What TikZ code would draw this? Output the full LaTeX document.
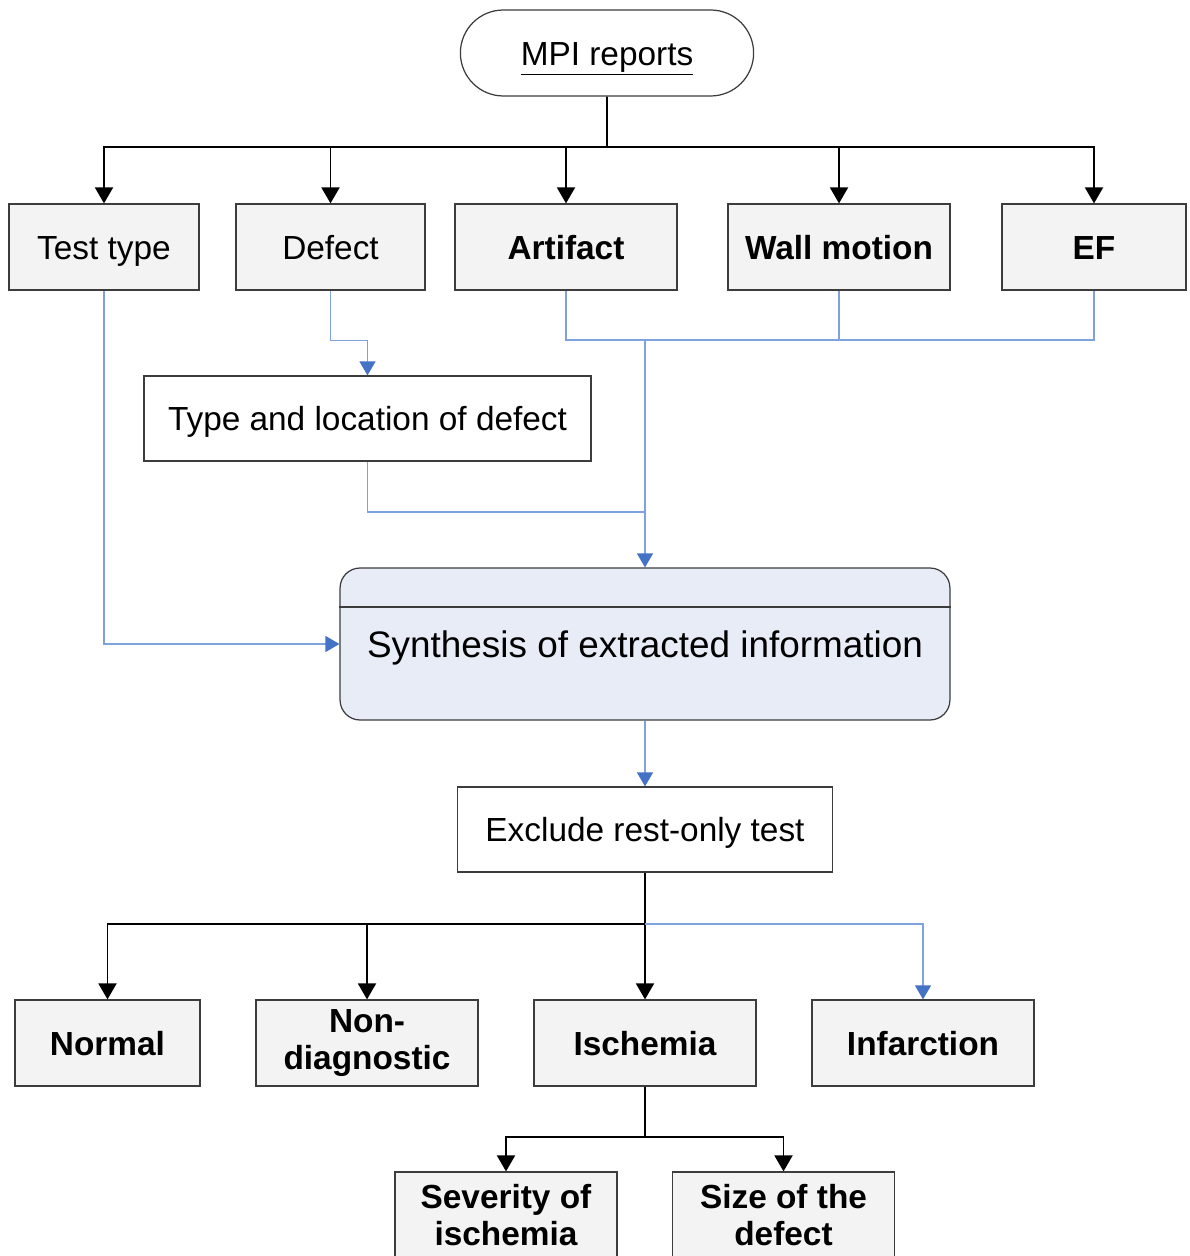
\documentclass[tikz,border=0pt]{standalone}
\usepackage{fontspec}
\setmainfont{Liberation Sans}
\usetikzlibrary{arrows.meta,shapes.misc,calc}

\definecolor{boxgray}{HTML}{F3F3F3}
\definecolor{synthblue}{HTML}{E7ECF7}
\definecolor{linkblue}{HTML}{7EA2DD}
\definecolor{tipblue}{HTML}{4472C4}
\definecolor{edgegray}{HTML}{3C3C3C}

\begin{document}
\begin{tikzpicture}[x=0.02cm,y=-0.02cm,
  box/.style={draw=edgegray, line width=0.7pt, fill=boxgray, minimum height=1.72cm,
    inner sep=0pt, align=center, font=\fontsize{19}{22}\selectfont},
  oneline/.style={text height=13.7pt, text depth=0pt},
  plainbox/.style={box, oneline, fill=white},
  strongbox/.style={box, font=\fontsize{19}{21}\selectfont\bfseries},
  blk/.style={line width=1.1pt, black, -{Triangle[length=0.32cm,width=0.36cm]}},
  blkline/.style={line width=1.1pt, black},
  blu/.style={line width=0.7pt, linkblue, -{Triangle[length=0.28cm,width=0.32cm,color=tipblue]}},
  bluline/.style={line width=0.7pt, linkblue}]

  \useasboundingbox (0,0) rectangle (1189,1256);
  \clip (0,0) rectangle (1189,1256);

  \node [rounded rectangle, draw=edgegray, line width=0.7pt, fill=white, oneline,
    minimum width=6.1cm, minimum height=1.72cm, font=\fontsize{19}{22}\selectfont]
    (mpi) at (607,53) {\underline{MPI reports}};

  %% first row
  \node [box, oneline, minimum width=3.8cm] (test) at (104,247) {Test type};
  \node [box, oneline, minimum width=3.78cm] (defect) at (330.5,247) {Defect};
  \node [strongbox, oneline, minimum width=4.44cm] (artifact) at (566,247) {Artifact};
  \node [strongbox, oneline, minimum width=4.44cm] (wall) at (839,247) {Wall motion};
  \node [strongbox, oneline, minimum width=3.68cm] (ef) at (1094,247) {EF};

  \node [plainbox, minimum width=8.94cm, minimum height=1.7cm] (typeloc) at (367.5,418.5)
    {Type and location of defect};

  \node [draw=edgegray, line width=0.7pt, fill=synthblue, rounded corners=0.4cm,
    text height=15pt, text depth=0pt,
    minimum width=12.2cm, minimum height=3.04cm, font=\fontsize{21}{24}\selectfont]
    (synth) at (645,644) {Synthesis of extracted information};
  \coordinate (synthline) at (0,607);
  \draw [draw=edgegray, line width=0.7pt] (synth.west |- synthline) -- (synth.east |- synthline);

  \node [plainbox, minimum width=7.5cm, minimum height=1.7cm] (exclude) at (645,829.5)
    {Exclude rest-only test};

  %% second row
  \node [strongbox, oneline, minimum width=3.7cm] (normal) at (107.5,1043) {Normal};
  \node [strongbox, minimum width=4.44cm] (nondiag) at (367,1043) {Non-\\diagnostic};
  \node [strongbox, oneline, minimum width=4.44cm] (ischemia) at (645,1043) {Ischemia};
  \node [strongbox, oneline, minimum width=4.44cm] (infarct) at (923,1043) {Infarction};

  \node [strongbox, minimum width=4.44cm] (severity) at (506,1215) {Severity of\\ischemia};
  \node [strongbox, minimum width=4.44cm] (size) at (783.5,1215) {Size of the\\defect};

  %% connectors
  \coordinate (topbus) at (607,147);
  \draw [blkline] (mpi) -- (topbus);
  \draw [blk] (topbus) -| (test);
  \draw [blk] (topbus) -| (defect);
  \draw [blk] (topbus) -| (artifact);
  \draw [blk] (topbus) -| (wall);
  \draw [blk] (topbus) -| (ef);

  \draw [blu] (test) |- (synth);
  \draw [blu] (defect.south) -- ++(0,50) -| (typeloc);

  \coordinate (join) at (645,340);
  \coordinate (joinb) at (645,512);
  \draw [bluline] (artifact) |- (join);
  \draw [bluline] (wall) |- (join);
  \draw [bluline] (ef) |- (join);
  \draw [bluline] (typeloc) |- (joinb);
  \draw [blu] (join) -- (synth);

  \draw [blu] (synth) -- (exclude);

  \coordinate (lowbus) at (645,924);
  \draw [blkline] (exclude) -- (lowbus);
  \draw [blk] (lowbus) -| (normal);
  \draw [blk] (lowbus) -| (nondiag);
  \draw [blk] (lowbus) -- (ischemia);
  \draw [blu] (lowbus) -| (infarct);

  \coordinate (isbus) at (645,1137);
  \draw [blkline] (ischemia) -- (isbus);
  \draw [blk] (isbus) -| (severity);
  \draw [blk] (isbus) -| (size);

\end{tikzpicture}
\end{document}
